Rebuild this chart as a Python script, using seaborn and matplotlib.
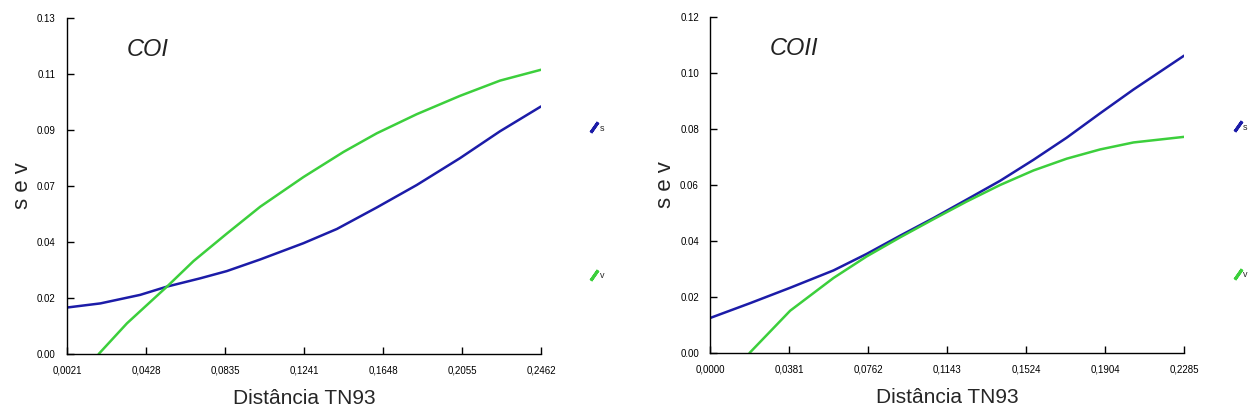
import matplotlib
matplotlib.use('Agg')
import matplotlib.pyplot as plt
from matplotlib.lines import Line2D
import seaborn as sns
import pandas as pd

# COI
coi_s_x = [0.0021, 0.0193, 0.0398, 0.0536, 0.0707, 0.0844, 0.1016, 0.1239, 0.1411, 0.1616, 0.1822, 0.2045, 0.2251, 0.2462]
coi_s_y = [0.0180, 0.0196, 0.0229, 0.0261, 0.0293, 0.0321, 0.0366, 0.0429, 0.0484, 0.0567, 0.0654, 0.0758, 0.0862, 0.0958]
coi_v_x = [0.0184, 0.0330, 0.0536, 0.0673, 0.0844, 0.1016, 0.1239, 0.1445, 0.1616, 0.1822, 0.2045, 0.2251, 0.2462]
coi_v_y = [0.0000, 0.0119, 0.0261, 0.0360, 0.0466, 0.0570, 0.0685, 0.0782, 0.0854, 0.0928, 0.0999, 0.1058, 0.1100]
coi_xticks = ['0,0021', '0,0428', '0,0835', '0,1241', '0,1648', '0,2055', '0,2462']
coi_yticks = ['0.00', '0.02', '0.04', '0.07', '0.09', '0.11', '0.13']

# COII
coii_s_x = [0.0000, 0.0193, 0.0386, 0.0595, 0.0755, 0.0916, 0.1077, 0.1237, 0.1398, 0.1559, 0.1719, 0.1880, 0.2041, 0.2285]
coii_s_y = [0.0125, 0.0178, 0.0233, 0.0295, 0.0354, 0.0419, 0.0482, 0.0548, 0.0615, 0.0690, 0.0769, 0.0856, 0.0941, 0.1062]
coii_v_x = [0.0190, 0.0386, 0.0595, 0.0755, 0.0916, 0.1077, 0.1237, 0.1398, 0.1559, 0.1719, 0.1880, 0.2041, 0.2285]
coii_v_y = [0.0000, 0.0151, 0.0268, 0.0345, 0.0413, 0.0478, 0.0541, 0.0600, 0.0652, 0.0694, 0.0727, 0.0752, 0.0772]
coii_xticks = ['0,0000', '0,0381', '0,0762', '0,1143', '0,1524', '0,1904', '0,2285']
coii_yticks = ['0.00', '0.02', '0.04', '0.06', '0.08', '0.10', '0.12']

BLUE = '#1c1ca8'
GREEN = '#3ccf3c'

sns.set_style('white')
plt.rcParams['font.family'] = ['Liberation Sans', 'DejaVu Sans']


def make_df(sx, sy, vx, vy):
    rows = [(x, y, 's') for x, y in zip(sx, sy)] + [(x, y, 'v') for x, y in zip(vx, vy)]
    return pd.DataFrame(rows, columns=['dist', 'val', 'serie'])


def draw_panel(ax, df, title, xmin, xmax, ymax, xlabels, ylabels):
    sns.lineplot(data=df, x='dist', y='val', hue='serie', palette={'s': BLUE, 'v': GREEN},
                 linewidth=1.8, ax=ax, legend=False)
    ax.set_xlim(xmin, xmax)
    ax.set_ylim(0, ymax)
    n = len(xlabels)
    ax.set_xticks([xmin + i * (xmax - xmin) / (n - 1) for i in range(n)])
    ax.set_xticklabels(xlabels)
    ax.set_yticks([i * ymax / (len(ylabels) - 1) for i in range(len(ylabels))])
    ax.set_yticklabels(ylabels)
    ax.tick_params(direction='in', length=5, width=1, labelsize=7, colors='black',
                   left=True, bottom=True)
    ax.tick_params(axis='x', pad=8)
    ax.tick_params(axis='y', pad=8)
    for side in ['top', 'right']:
        ax.spines[side].set_visible(False)
    for side in ['left', 'bottom']:
        ax.spines[side].set_color('black')
        ax.spines[side].set_linewidth(1)
    ax.set_xlabel('Distância TN93', fontsize=15, labelpad=10)
    ax.set_ylabel('s e v', fontsize=16, labelpad=3)
    ax.text(0.126, 0.905, title, transform=ax.transAxes, fontsize=17, style='italic',
            va='center', ha='left', color='#222222')
    handles = [Line2D([], [], linestyle='none', marker=(2, 2, -35), markersize=9,
                      markeredgewidth=2.2, color=c) for c in (BLUE, GREEN)]
    ax.legend(handles, ['s', 'v'], loc='upper left', bbox_to_anchor=(1.09, 0.71),
              frameon=False, fontsize=6.5, labelspacing=15.3, handlelength=0.6,
              handletextpad=0.3)


fig = plt.figure(figsize=(12.59, 4.2), dpi=100)
ax1 = fig.add_axes([0.0532, 0.157, 0.3765, 0.8])
ax2 = fig.add_axes([0.564, 0.1595, 0.3765, 0.8])

draw_panel(ax1, make_df(coi_s_x, coi_s_y, coi_v_x, coi_v_y), 'COI',
           0.0021, 0.2462, 0.13, coi_xticks, coi_yticks)
draw_panel(ax2, make_df(coii_s_x, coii_s_y, coii_v_x, coii_v_y), 'COII',
           0.0, 0.2285, 0.12, coii_xticks, coii_yticks)

fig.savefig('out.png', dpi=100)
